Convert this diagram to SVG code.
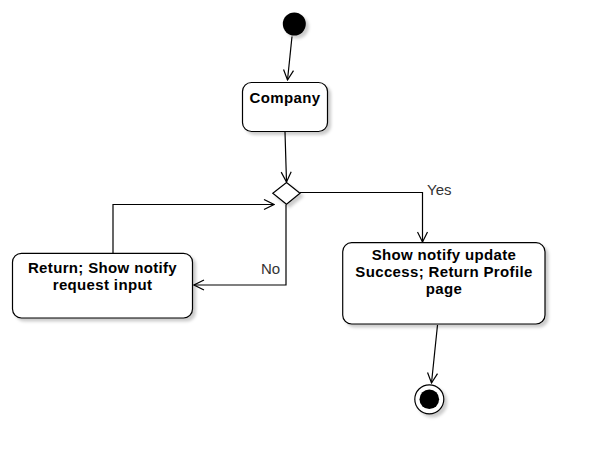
<svg xmlns="http://www.w3.org/2000/svg" width="595" height="463" viewBox="0 0 595 463">
  <defs>
    <filter id="sh" x="-20%" y="-20%" width="150%" height="150%">
      <feDropShadow dx="3" dy="3" stdDeviation="1.8" flood-color="#000" flood-opacity="0.2"/>
    </filter>
    <marker id="arr" markerWidth="12" markerHeight="12" viewBox="0 0 12 12" refX="11" refY="6" orient="auto" markerUnits="userSpaceOnUse">
      <path d="M1,1 L11,6 L1,11" fill="none" stroke="#000" stroke-width="1.2"/>
    </marker>
    <style>
      .box { fill: #fff; stroke: #000; stroke-width: 1.2; }
      .lbl { font-family: "Liberation Sans", Arial, sans-serif; font-size: 15px; letter-spacing: 0.35px; font-weight: bold; fill: #000; text-anchor: middle; }
      .edge { fill: none; stroke: #000; stroke-width: 1.2; marker-end: url(#arr); }
      .elbl { font-family: "Liberation Sans", Arial, sans-serif; font-size: 15px; fill: #333; }
    </style>
  </defs>
  <rect width="595" height="463" fill="#fff"/>

  <g id="connectors">
    <path class="edge" d="M292,36.5 L287.5,80"/>
    <path class="edge" d="M285,132 L286.5,182"/>
    <path class="edge" d="M300,192.5 L422.5,192.5 L422.5,242"/>
    <path class="edge" d="M286,204.5 L286,285 L194,285"/>
    <path class="edge" d="M113,253 L113,204.5 L274,204.5"/>
    <path class="edge" d="M437.5,325 L431.5,383"/>
    <text class="elbl" x="427" y="195">Yes</text>
    <text class="elbl" x="261" y="274">No</text>
  </g>

  <g id="start">
    <circle cx="294.3" cy="24" r="11.5" fill="#000" filter="url(#sh)"/>
  </g>

  <g id="company">
    <rect class="box" x="242.5" y="82.5" width="85" height="49" rx="9" filter="url(#sh)"/>
    <text class="lbl" x="285" y="103">Company</text>
  </g>

  <g id="decision">
    <polygon points="286.5,182.5 300,193.3 286.5,204.3 272.8,193.3" fill="#fff" stroke="#000" stroke-width="1.2" filter="url(#sh)"/>
  </g>

  <g id="return-notify">
    <rect class="box" x="12.5" y="253.3" width="180" height="64.7" rx="9" filter="url(#sh)"/>
    <text class="lbl" x="102.5" y="272.5">Return; Show notify</text>
    <text class="lbl" x="102.5" y="289.5">request input</text>
  </g>

  <g id="success">
    <rect class="box" x="342.7" y="242.7" width="202.3" height="81.3" rx="9" filter="url(#sh)"/>
    <text class="lbl" x="444" y="260.3">Show notify update</text>
    <text class="lbl" x="444" y="277.3">Success; Return Profile</text>
    <text class="lbl" x="444" y="294.3">page</text>
  </g>

  <g id="end">
    <circle cx="429.3" cy="399.3" r="14.5" fill="#fff" stroke="#000" stroke-width="1.2" filter="url(#sh)"/>
    <circle cx="429.3" cy="399.3" r="9.8" fill="#000"/>
  </g>
</svg>
